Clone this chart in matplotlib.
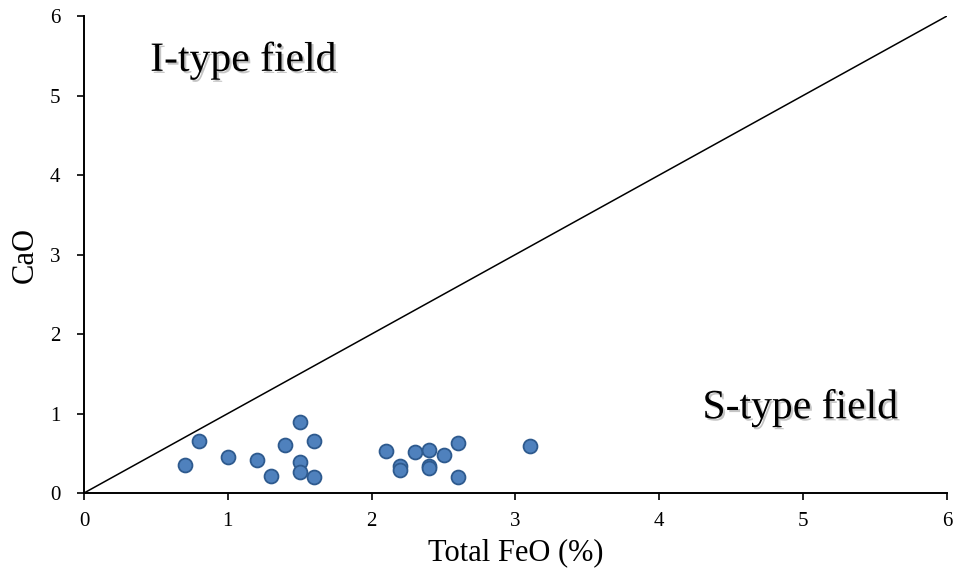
import matplotlib
matplotlib.use("Agg")
import matplotlib.pyplot as plt
import matplotlib.patheffects as pe

# Total FeO (%) vs CaO for the analysed granite samples
feo = [0.7, 0.8, 1.0, 1.2, 1.3, 1.4, 1.5, 1.5, 1.5, 1.6, 1.6,
       2.1, 2.2, 2.2, 2.3, 2.4, 2.4, 2.4, 2.5, 2.6, 2.6, 3.1]
cao = [0.35, 0.65, 0.45, 0.41, 0.22, 0.60, 0.89, 0.39, 0.26, 0.65, 0.20,
       0.53, 0.34, 0.29, 0.52, 0.54, 0.34, 0.32, 0.48, 0.63, 0.20, 0.59]

# I/S boundary line CaO = FeO
boundary = [0, 6]
ticks = [0, 1, 2, 3, 4, 5, 6]

serif = ["Liberation Serif", "DejaVu Serif"]

fig = plt.figure(figsize=(9.57, 5.72), dpi=100)
ax = fig.add_axes([0.0878, 0.1381, 0.9017, 0.8339])

ax.plot(boundary, boundary, color="black", lw=1.1, zorder=2)
ax.scatter(feo, cao, s=100, facecolor="#4F81BD", edgecolor="#2E5A8E",
           linewidth=1.3, zorder=3)

ax.set_xlim(0, 6)
ax.set_ylim(0, 6)
ax.set_xticks(ticks)
ax.set_yticks(ticks)
ax.spines["top"].set_visible(False)
ax.spines["right"].set_visible(False)
for s in ("left", "bottom"):
    ax.spines[s].set_linewidth(1.4)
ax.tick_params(direction="out", length=5, width=1.2, labelsize=15, pad=9)
ax.tick_params(axis="y", pad=12)
for lab in ax.get_xticklabels() + ax.get_yticklabels():
    lab.set_family(serif)

ax.set_xlabel("Total FeO (%)", family=serif, fontsize=22, labelpad=5)
ax.set_ylabel("CaO", family=serif, fontsize=22, labelpad=7)

shadow = [pe.SimplePatchShadow(offset=(1.5, -1.5), shadow_rgbFace="gray", alpha=0.45),
          pe.Normal()]
ax.text(0.46, 5.31, "I-type field", family=serif, fontsize=30, va="baseline",
        path_effects=shadow)
ax.text(4.30, 0.94, "S-type field", family=serif, fontsize=30, va="baseline",
        path_effects=shadow)

fig.savefig("out.png", dpi=100)
